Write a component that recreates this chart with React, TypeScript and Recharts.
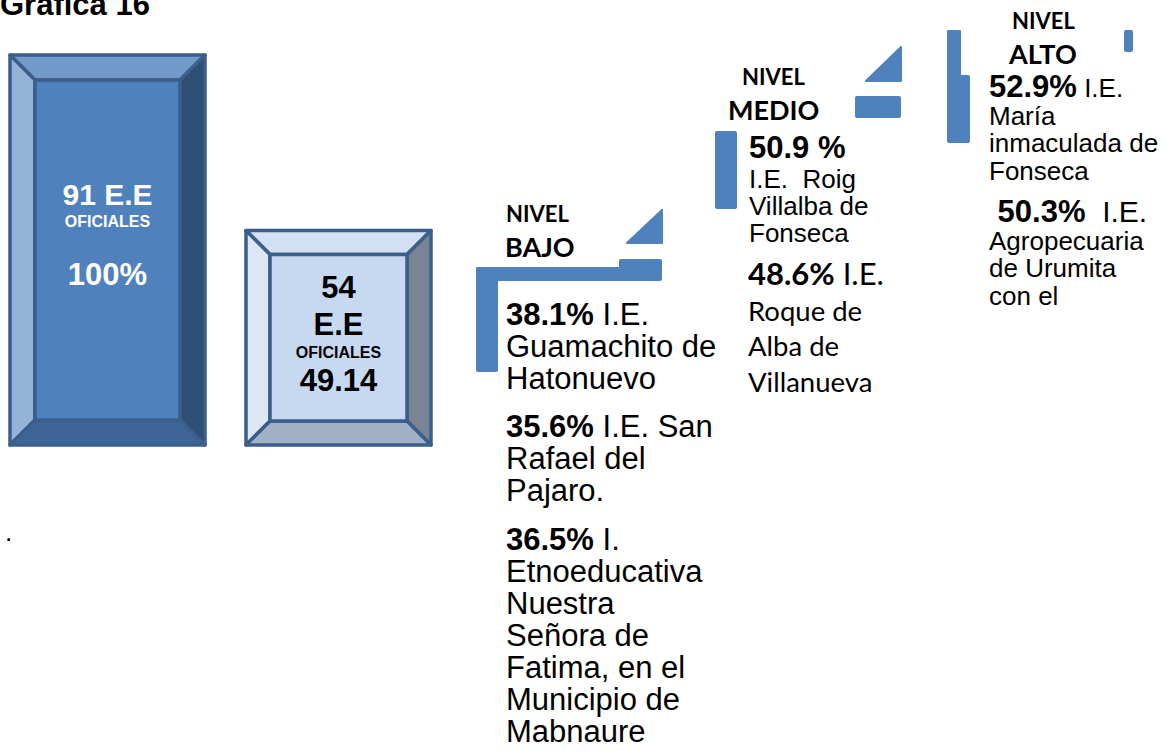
import { BarChart, Bar, XAxis, YAxis, Customized } from "recharts";

// bars: relative height (left bar = 100)
const categories = ["91 E.E OFICIALES", "54 E.E OFICIALES"];
const barHeights = [100, 55];
const barLabels = [
  ["91 E.E", "OFICIALES", "100%"],
  ["54", "E.E", "OFICIALES", "49.14"],
];

const levelNames = ["BAJO", "MEDIO", "ALTO"];

const bajoSchools = [
  { pct: "38.1%", head: " I.E.", lines: ["Guamachito de", "Hatonuevo"] },
  { pct: "35.6%", head: " I.E. San", lines: ["Rafael del", "Pajaro."] },
  {
    pct: "36.5%",
    head: " I.",
    lines: ["Etnoeducativa", "Nuestra", "Señora de", "Fatima, en el", "Municipio de", "Mabnaure"],
  },
];
const medioSchools = [
  { pct: "50.9 %", head: "", lines: ["I.E.  Roig", "Villalba de", "Fonseca"] },
  { pct: "48.6%", head: " I.E.", lines: ["Roque de", "Alba de", "Villanueva"] },
];
const altoSchools = [
  { pct: "52.9%", head: " I.E.", lines: ["María", "inmaculada de", "Fonseca"] },
  { pct: " 50.3%", head: "  I.E.", lines: ["Agropecuaria", "de Urumita", "con el"] },
];

const barData = categories.map((name, i) => ({ name, value: barHeights[i] }));

const ARIAL = "'Liberation Sans', Arial, sans-serif";
const CALIBRI = "Lato, 'Noto Sans', sans-serif";
const BLUE = "#4f81bd";

// look of the two bevelled boxes
const BAR_STYLE = [
  {
    w: 195, bevel: 25, face: "#4f81bd", top: "#729acb", left: "#95b3d7", right: "#2f4f75", bottom: "#3f6597",
    text: "#ffffff", offsets: [150, 172, 230], sizes: [30, 16, 31],
  },
  {
    w: 185, bevel: 24, face: "#c6d9f1", top: "#d3e1f4", left: "#dde7f3", right: "#7a8593", bottom: "#a2b0c5",
    text: "#000000", offsets: [67, 104, 127, 160], sizes: [31, 31, 16, 31],
  },
];

const BevelBar = (props: any) => {
  const { x, width, y, height, index } = props;
  const s = BAR_STYLE[index];
  const cx = x + width / 2;
  const x0 = cx - s.w / 2;
  const x1 = cx + s.w / 2;
  const y0 = y;
  const y1 = y + height;
  const b = s.bevel;
  const pts = (a: number[][]) => a.map((p) => p.join(",")).join(" ");
  const stroke = { stroke: "#3b5e8c", strokeWidth: 3.5, strokeLinejoin: "round" as const };
  return (
    <g>
      <polygon points={pts([[x0, y0], [x1, y0], [x1 - b, y0 + b], [x0 + b, y0 + b]])} fill={s.top} {...stroke} />
      <polygon points={pts([[x0, y0], [x0 + b, y0 + b], [x0 + b, y1 - b], [x0, y1]])} fill={s.left} {...stroke} />
      <polygon points={pts([[x1, y0], [x1, y1], [x1 - b, y1 - b], [x1 - b, y0 + b]])} fill={s.right} {...stroke} />
      <polygon points={pts([[x0, y1], [x0 + b, y1 - b], [x1 - b, y1 - b], [x1, y1]])} fill={s.bottom} {...stroke} />
      <rect x={x0 + b} y={y0 + b} width={s.w - 2 * b} height={height - 2 * b} fill={s.face} {...stroke} />
      {barLabels[index].map((t, i) => (
        <text
          key={i}
          x={cx}
          y={y0 + s.offsets[i]}
          textAnchor="middle"
          fontFamily={ARIAL}
          fontWeight="bold"
          fontSize={s.sizes[i]}
          fill={s.text}
        >
          {t}
        </text>
      ))}
    </g>
  );
};

// text placement for each school block
const BLOCKS = [
  { items: bajoSchools, x: [506, 506, 506], y: [325, 437, 550], pct: 31, head: 31, body: 31, lh: 32, font: [ARIAL, ARIAL, ARIAL] },
  { items: medioSchools, x: [749, 748], y: [158, 285], pct: 31, head: 31, body: [26, 27.5], lh: [27, 35.5], font: [ARIAL, CALIBRI] },
  { items: altoSchools, x: [989, 989], y: [97, 222], pct: 31, head: [26, 30], body: 26, lh: 27.7, font: [ARIAL, ARIAL] },
];

const pick = (v: any, i: number) => (Array.isArray(v) ? v[i] : v);

const LEVEL_TEXT = [
  { x: 506, nx: 505, y1: 222, y2: 257 },
  { x: 742, nx: 728, y1: 85, y2: 120 },
  { x: 1012, nx: 1009, y1: 29, y2: 64 },
];

const StepArt = () => (
  <g transform="translate(8,0)">
    <defs>
      {LEVEL_TEXT.map((l, i) => (
        <clipPath key={i} id={`lvl-clip-${i}`}>
          <rect x={l.nx - 5} y={l.y2 - 40} width={120} height={40} />
        </clipPath>
      ))}
    </defs>
    <text x={0} y={15} fontFamily={ARIAL} fontWeight="bold" fontSize={31}>
      Grafica 16
    </text>
    <text x={5} y={541} fontFamily={ARIAL} fontSize={26}>
      .
    </text>

    {/* stair pieces */}
    <g fill={BLUE}>
      <rect x={476} y={267} width={22} height={105} rx={2} />
      <rect x={476} y={267} width={186} height={14} rx={2} />
      <rect x={619} y={259} width={43} height={12} rx={2} />
      <polygon points="627,243 662,210 662,243" strokeLinejoin="round" stroke={BLUE} strokeWidth={2} />
      <rect x={715} y={131} width={22} height={78} rx={2} />
      <rect x={855} y={96} width={46} height={22} rx={2} />
      <polygon points="866,81 901,47 901,81" strokeLinejoin="round" stroke={BLUE} strokeWidth={2} />
      <rect x={947} y={30} width={14} height={50} rx={1} />
      <rect x={947} y={75} width={23} height={68} rx={2} />
      <rect x={1124} y={30} width={9} height={22} rx={2} />
    </g>

    {levelNames.map((name, i) => (
      <g key={name} fontFamily={CALIBRI} fontWeight="bold" fill="#000">
        <text x={LEVEL_TEXT[i].x} y={LEVEL_TEXT[i].y1} fontSize={22}>
          NIVEL
        </text>
        <text x={LEVEL_TEXT[i].nx} y={LEVEL_TEXT[i].y2} fontSize={27} clipPath={`url(#lvl-clip-${i})`}>
          {name}
        </text>
      </g>
    ))}

    {BLOCKS.map((blk, bi) =>
      blk.items.map((it, j) => {
        const x = blk.x[j];
        const y = blk.y[j];
        const lh = pick(blk.lh, j);
        const font = blk.font[j];
        return (
          <text key={`${bi}-${j}`} fontFamily={font} fill="#000" style={{ whiteSpace: "pre" }}>
            <tspan x={x} y={y} fontWeight="bold" fontSize={blk.pct}>
              {it.pct}
            </tspan>
            <tspan fontSize={pick(blk.head, j)}>{it.head}</tspan>
            {it.lines.map((ln, k) => (
              <tspan key={k} x={x} y={y + lh * (k + 1) + (bi === 1 && j === 0 ? 3 : 0)} fontSize={pick(blk.body, j)}>
                {ln}
              </tspan>
            ))}
          </text>
        );
      })
    )}
  </g>
);

export default function App() {
  return (
    <div style={{ position: "absolute", left: -8, top: 0, width: 1175, height: 751, background: "#fff" }}>
      <BarChart
        width={1175}
        height={751}
        data={barData}
        margin={{ top: 55, right: 713, bottom: 306, left: 0 }}
        barCategoryGap={0}
      >
        <XAxis dataKey="name" hide />
        <YAxis hide domain={[0, 100]} />
        <Bar dataKey="value" shape={BevelBar} isAnimationActive={false} />
        <Customized component={StepArt} />
      </BarChart>
    </div>
  );
}
